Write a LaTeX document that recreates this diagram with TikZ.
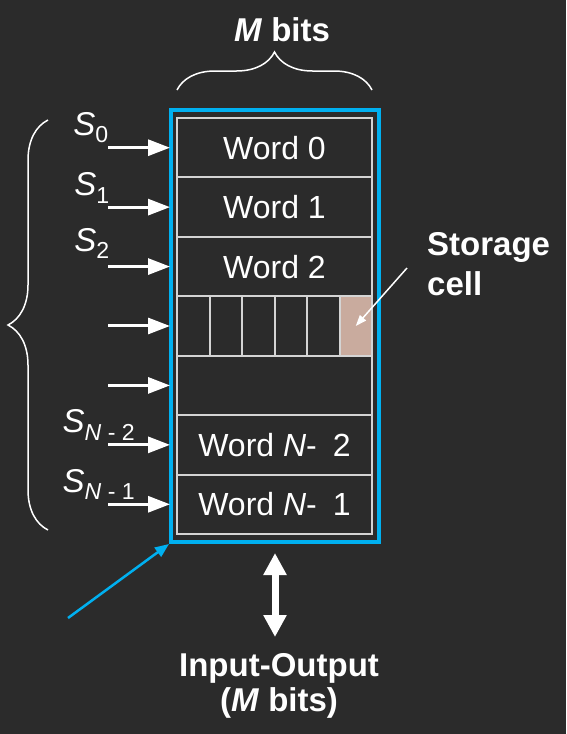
\documentclass[tikz,border=0pt]{standalone}
\usepackage{fontspec}
\setmainfont{Liberation Sans}
\usetikzlibrary{arrows.meta,decorations.pathreplacing}

\definecolor{bgcol}{RGB}{43,43,43}
\definecolor{memblue}{RGB}{0,176,240}
\definecolor{cellgray}{RGB}{212,212,212}
\definecolor{celltan}{RGB}{201,171,158}

\def\myRowH{59.43}
\def\myCellW{32.5}
\def\myArrowL{68}

\tikzset{word:style/.style={draw=cellgray,line width=2pt,minimum width=195pt,minimum height=\myRowH pt,inner sep=0pt,text=white,font=\fontsize{32}{38}\selectfont}}
\tikzset{cell:style/.style={draw=cellgray,line width=2pt,minimum width=\myCellW pt,minimum height=\myRowH pt,inner sep=0pt}}
\tikzset{frame:style/.style={draw=memblue,line width=4pt,minimum width=208pt,minimum height=432pt,inner sep=0pt}}
\tikzset{sel:style/.style={draw=white,line width=3pt,-{Triangle[length=22pt,width=16pt]},shorten >=6pt}}
\tikzset{lab:style/.style={text=white,inner sep=0pt,font=\fontsize{33}{38}\selectfont}}
\tikzset{big:style/.style={text=white,inner sep=0pt,align=center,font=\fontsize{33}{35}\selectfont\bfseries}}
\tikzset{brace:style/.style={draw=white,line width=1.5pt,decorate,decoration={brace,amplitude=#1}}}

\begin{document}
\begin{tikzpicture}[x=1pt,y=-1pt]

	\fill[bgcol] (0,0) rectangle (566,734);
	\useasboundingbox (0,0) rectangle (566,734);

	\path
		(274.5,147.7) coordinate (cw0)
		++(0,\myRowH) coordinate (cw1)
		++(0,\myRowH) coordinate (cw2)
		++(0,\myRowH) coordinate (cw3)
		++(0,\myRowH) coordinate (cw4)
		++(0,\myRowH) coordinate (cw5)
		++(0,\myRowH) coordinate (cw6);

	\path (275,326) node[frame:style] (mem) {};

	\path (cw0) node[word:style] (w0) {Word 0};
	\path (cw1) node[word:style] (w1) {Word 1};
	\path (cw2) node[word:style] (w2) {Word 2};
	\path (cw4) node[word:style] (w4) {};
	\path (cw5) node[word:style] (w5) {Word \textit{N}-\hspace{0.5em}2};
	\path (cw6) node[word:style] (w6) {Word \textit{N}-\hspace{0.5em}1};

	\path (cw3) ++(-5*\myCellW/2,0) node[cell:style] (c1) {};
	\path (c1) ++(\myCellW,0) node[cell:style] (c2) {};
	\path (c2) ++(\myCellW,0) node[cell:style] (c3) {};
	\path (c3) ++(\myCellW,0) node[cell:style] (c4) {};
	\path (c4) ++(\myCellW,0) node[cell:style] (c5) {};
	\path (c5) ++(\myCellW,0) node[cell:style,fill=celltan] (c6) {};

	\path (w0.west) ++(-\myArrowL,0) coordinate (a0);
	\path (w1.west) ++(-\myArrowL,0) coordinate (a1);
	\path (w2.west) ++(-\myArrowL,0) coordinate (a2);
	\path (c1.west) ++(-\myArrowL,0) coordinate (a3);
	\path (w4.west) ++(-\myArrowL,0) coordinate (a4);
	\path (w5.west) ++(-\myArrowL,0) coordinate (a5);
	\path (w6.west) ++(-\myArrowL,0) coordinate (a6);

	\path[sel:style] (a0) -- (w0.west);
	\path[sel:style] (a1) -- (w1.west);
	\path[sel:style] (a2) -- (w2.west);
	\path[sel:style] (a3) -- (c1.west);
	\path[sel:style] (a4) -- (w4.west);
	\path[sel:style] (a5) -- (w5.west);
	\path[sel:style] (a6) -- (w6.west);

	\path (a0) ++(-17,-20) node[lab:style] (s0) {\textit{S}\textsubscript{0}};
	\path (a1) ++(-16,-19) node[lab:style] (s1) {\textit{S}\textsubscript{1}};
	\path (a2) ++(-16,-23) node[lab:style] (s2) {\textit{S}\textsubscript{2}};
	\path (a5) ++(-9,-20) node[lab:style] (s5) {\textit{S}\textsubscript{\textit{N} - 2}};
	\path (a6) ++(-9,-20) node[lab:style] (s6) {\textit{S}\textsubscript{\textit{N} - 1}};

	% braces
	\draw[brace:style=38pt] (177,90) -- (372,90);
	\draw[brace:style=40pt] (48,530) -- (48,120);

	\path (282,30) node[big:style] (mb) {\textit{M} bits};
	\path (427,232) node[big:style,align=left,anchor=north west,font=\fontsize{33}{40}\selectfont\bfseries] (sc) {Storage\\cell};
	\path (279,653) node[big:style,anchor=north] (io) {Input-Output\\(\textit{M} bits)};

	\path (407,268) coordinate (sa);
	\draw[white,line width=1.5pt,-{Triangle[length=11pt,width=8pt]}] (sa) -- (c6.center);

	\path (68,618) coordinate (ba);
	\draw[memblue,line width=2.5pt,-{Triangle[length=14pt,width=11pt]}] (ba) -- (mem.south west);

	\draw[white,line width=7pt,{Triangle[length=22pt,width=22pt]}-{Triangle[length=22pt,width=22pt]},shorten <=9pt,shorten >=16pt] (mem.south) -- (mem.south |- io.north);

\end{tikzpicture}
\end{document}
